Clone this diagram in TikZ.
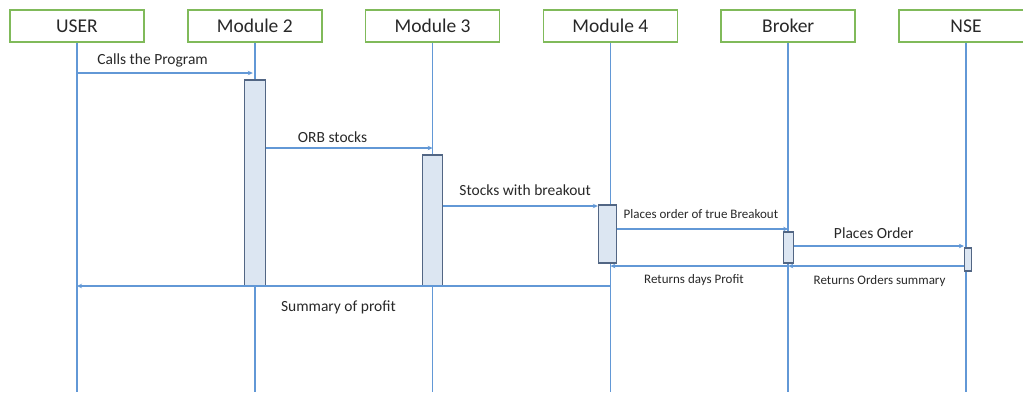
\documentclass[tikz,border=0pt]{standalone}
\usepackage{fontspec}
\setmainfont{Carlito}
\usepackage{tikz}
\usetikzlibrary{positioning,chains,arrows.meta}
\definecolor{boxgreen}{RGB}{128,186,90}
\definecolor{lineblue}{RGB}{98,152,214}
\definecolor{actfill}{RGB}{220,230,242}
\definecolor{actdraw}{RGB}{82,102,132}
\definecolor{textgray}{RGB}{40,40,40}
\tikzset{
	sequence chart/.style={
		x=1pt,y=-1pt,
		node distance=42.3pt,
		text=textgray,
		lifeline/.style={
			draw=lineblue,
			line width=1.6pt
		},
		message/.style={
			draw=lineblue,
			line width=1.4pt,
			-{Stealth[length=5pt,width=4.5pt]}
		}
	},
	actor/.style={
		rectangle,
		draw=boxgreen,
		line width=1.5pt,
		on chain,
		minimum width=134pt,
		minimum height=32pt,
		font=\fontsize{19.5}{22}\selectfont
	},
	activation/.style={
		rectangle,
		draw=actdraw,
		fill=actfill,
		line width=1.2pt,
		inner sep=0pt
	},
	big label/.style={
		inner sep=0pt,
		font=\fontsize{15.5}{17}\selectfont
	},
	small label/.style={
		inner sep=0pt,
		font=\fontsize{13}{15}\selectfont
	}
}

\begin{document}
\begin{tikzpicture}[sequence chart]
	\useasboundingbox (0,0) rectangle (1023,392);
	\clip (0,0) rectangle (1023,392);
	% heads of the lifelines
	\begin{scope}[shift={(77,26)},start chain=going right]
		\node[actor] (user) {USER};
		\node[actor] (m2) {Module 2};
		\node[actor] (m3) {Module 3};
		\node[actor] (m4) {Module 4};
		\node[actor] (broker) {Broker};
		\node[actor] (nse) {NSE};
	\end{scope}
	% lifelines
	\foreach \who in {user,m2,m3,m4,broker,nse} {
		\coordinate (\who-end) at (\who.south |- 0,392);
		\draw[lifeline] (\who.south) -- (\who-end);
	}
	% activation bars
	\node[activation,minimum width=21pt,minimum height=206pt] (act2) at (m2 |- 0,183) {};
	\node[activation,minimum width=20pt,minimum height=131pt] (act3) at (m3 |- 0,220.5) {};
	\node[activation,minimum width=18pt,minimum height=58pt] (act4) at ([xshift=-3pt]m4 |- 0,234) {};
	\node[activation,minimum width=10pt,minimum height=31pt] (actb) at (broker |- 0,247.5) {};
	\node[activation,minimum width=7pt,minimum height=23pt] (actn) at ([xshift=2pt]nse |- 0,259.5) {};
	% messages
	\draw[message] (user |- 0,73) -- node[big label,pos=0.43,above=5pt] (lcall) {Calls the Program} ([xshift=-2pt]m2 |- 0,73);
	\draw[message] (act2.east |- 0,148) -- node[big label,pos=0.40,above=5pt] (lorb) {ORB stocks} (m3 |- 0,148);
	\draw[message] (act3.east |- 0,206) -- node[big label,pos=0.53,above=10pt] (lbreak) {Stocks with breakout} (act4.west |- 0,206);
	\draw[message] (act4.east |- 0,229) -- node[small label,pos=0.49,above=10pt] (ltrue) {Places order of true Breakout} (broker |- 0,229);
	\draw[message] (actb.east |- 0,246) -- node[big label,pos=0.47,above=7pt] (lorder) {Places Order} (actn.west |- 0,246);
	\draw[message] (actn.west |- 0,266) -- node[small label,pos=0.48,below=9pt] (lsum) {Returns Orders summary} (broker |- 0,266);
	\draw[message] (broker |- 0,266) -- node[small label,pos=0.53,below=8pt] (lday) {Returns days Profit} (m4 |- 0,266);
	\draw[message] (m4 |- 0,286) -- node[big label,pos=0.51,below=14pt] (lprofit) {Summary of profit} (user |- 0,286);
\end{tikzpicture}
\end{document}
